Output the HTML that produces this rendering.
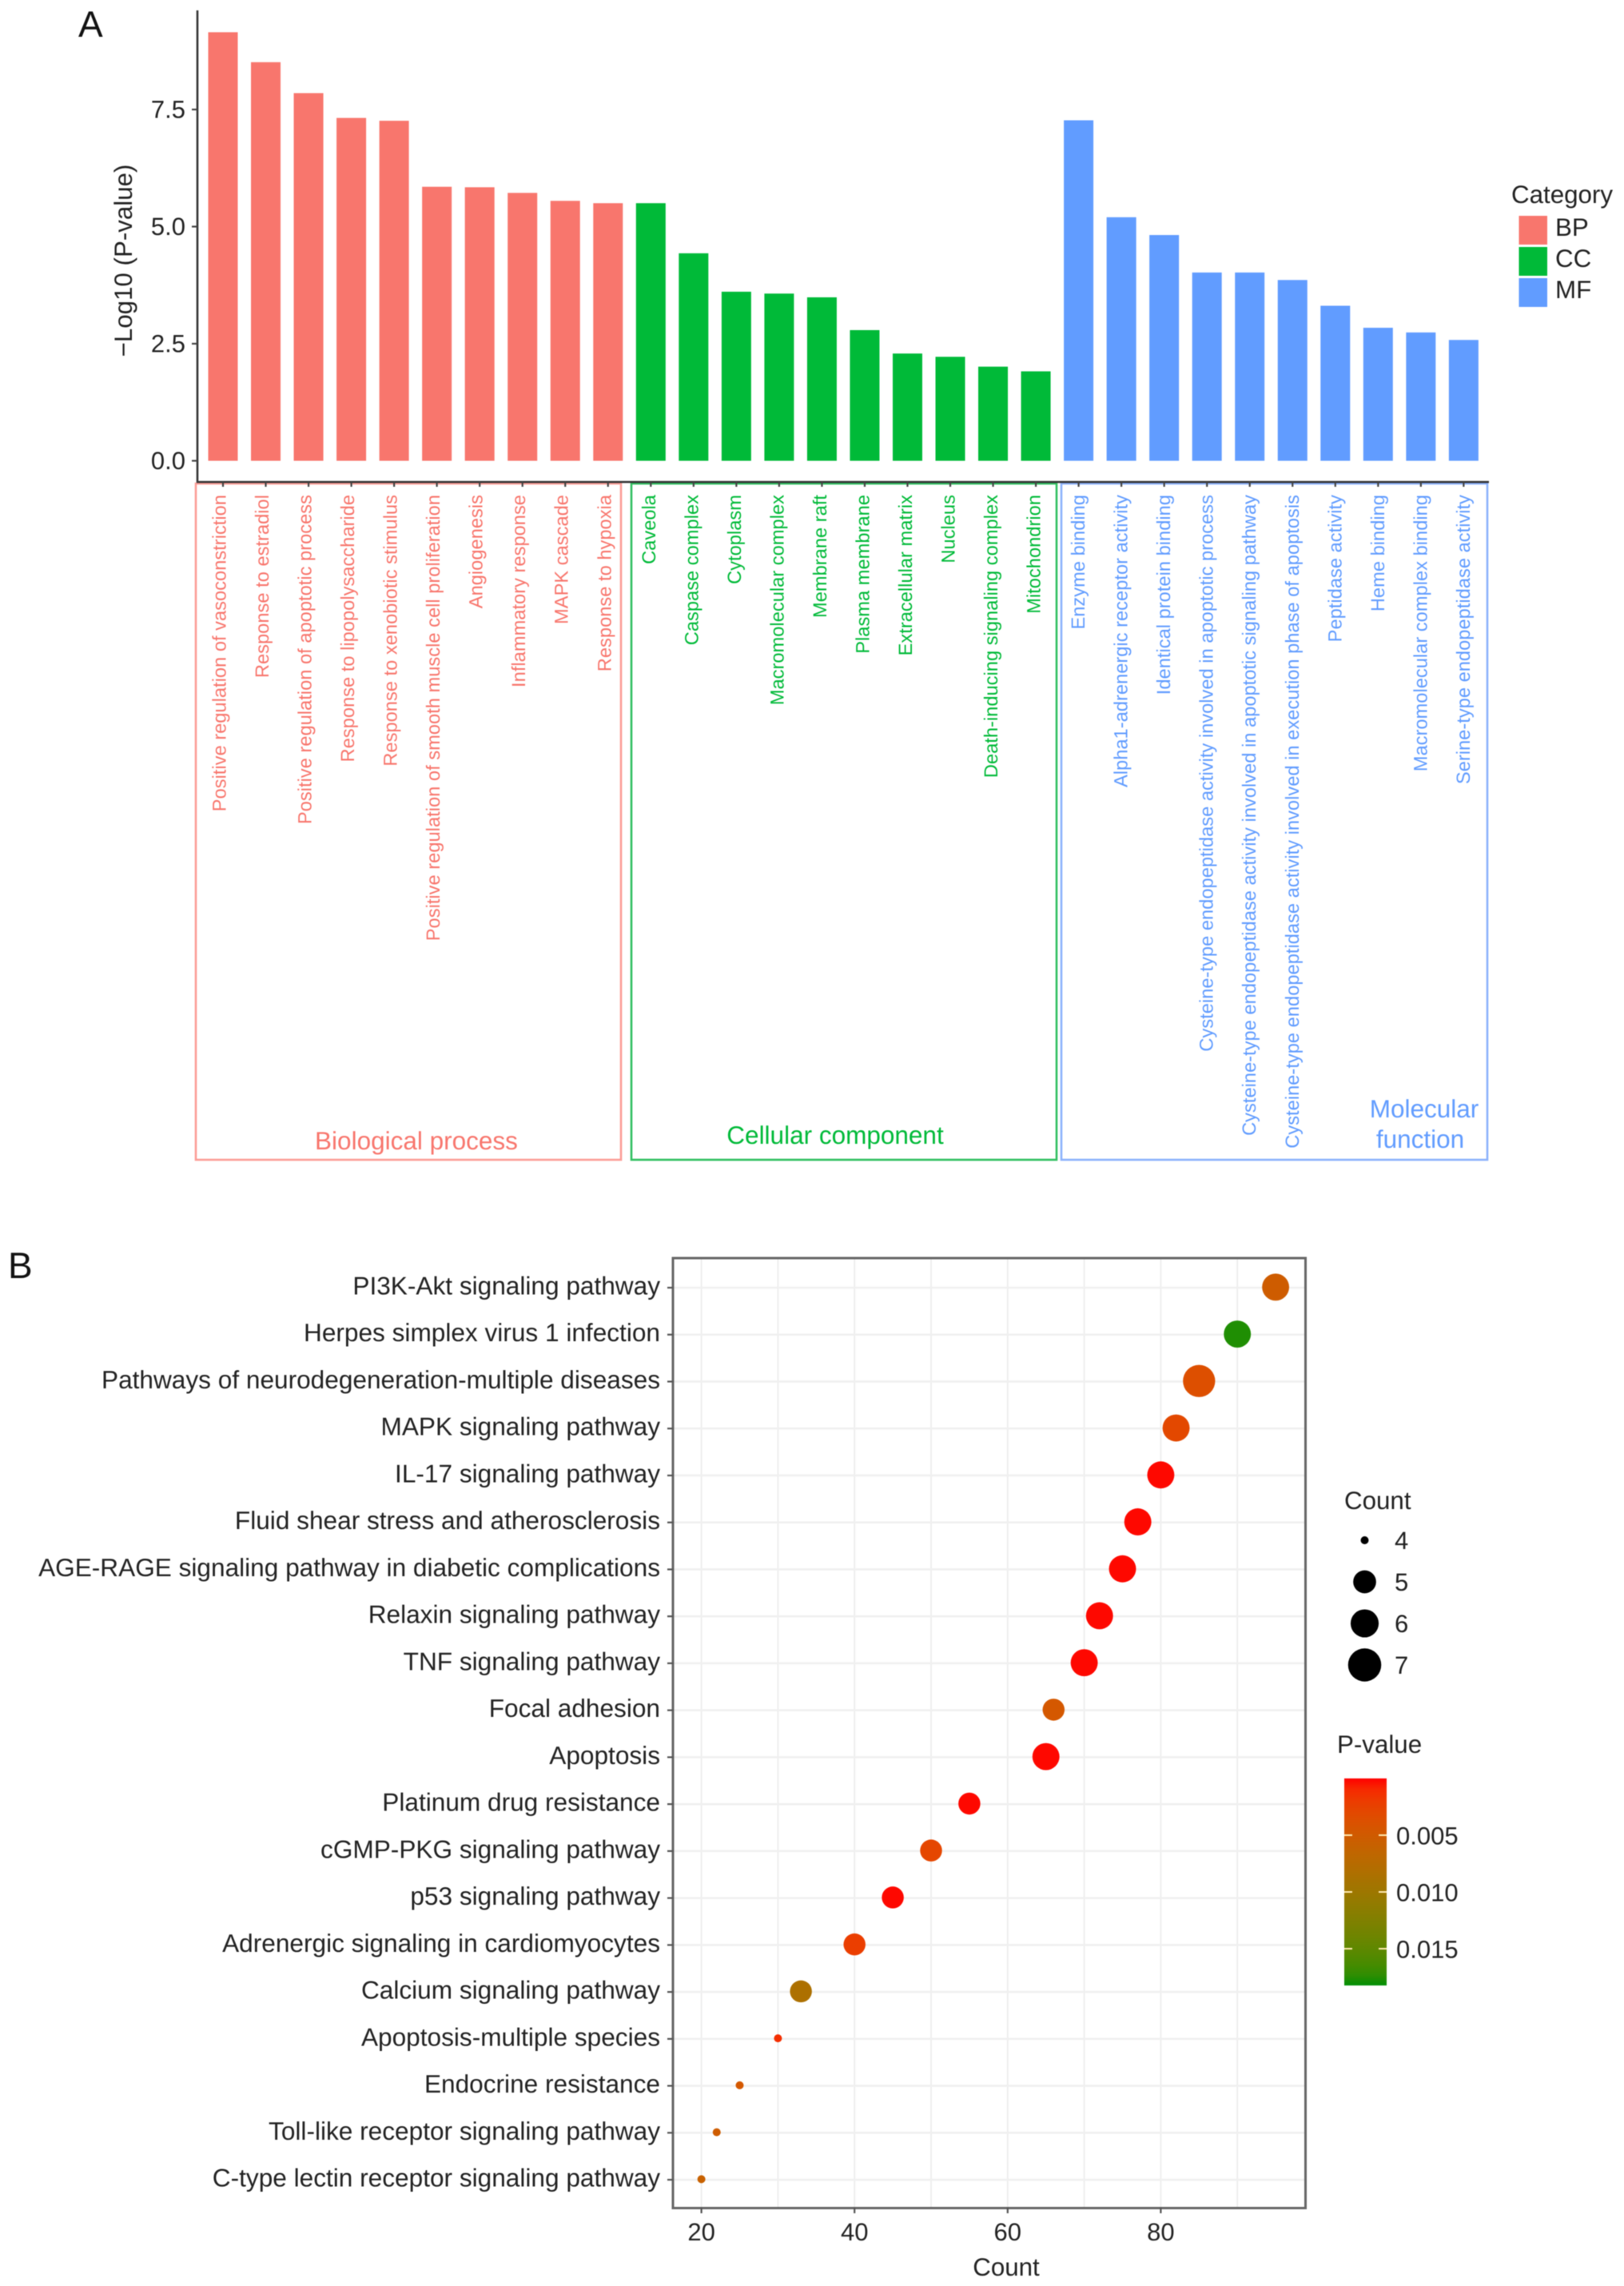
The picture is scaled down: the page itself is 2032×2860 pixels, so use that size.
<!DOCTYPE html>
<html lang="en">
<head>
<meta charset="utf-8">
<title>GO enrichment bar chart and KEGG pathway dot plot</title>
<style>
  html, body { margin: 0; padding: 0; background: #ffffff; }
  svg { display: block; filter: blur(0.5px); }
  text { font-family: "Liberation Sans", Arial, sans-serif; text-rendering: geometricPrecision; }
</style>
</head>
<body>
<svg id="figure" xmlns="http://www.w3.org/2000/svg" width="2032" height="2860" viewBox="0 0 2032 2860">
  <rect x="0" y="0" width="2032" height="2860" fill="#ffffff"/>

  <text x="98" y="46" font-size="46" fill="#111">A</text>
  <text x="10" y="1599" font-size="46" fill="#111">B</text>

  <g id="panel-a">
    <rect x="245" y="605" width="532" height="846" fill="none" stroke="#fb9d97" stroke-width="2.6"/>
    <rect x="790" y="605" width="532" height="846" fill="none" stroke="#30c060" stroke-width="2.6"/>
    <rect x="1328" y="605" width="533" height="846" fill="none" stroke="#8cb2fb" stroke-width="2.6"/>
    <text x="521" y="1438" font-size="31.5" fill="#f8766d" text-anchor="middle">Biological process</text>
    <text x="1045" y="1431" font-size="31.5" fill="#00ba38" text-anchor="middle">Cellular component</text>
    <text x="1782" y="1398" font-size="31.5" fill="#619cff" text-anchor="middle">Molecular</text>
    <text x="1777" y="1436" font-size="31.5" fill="#619cff" text-anchor="middle">function</text>
    <g id="a-bars"></g>
    <line x1="247" y1="13" x2="247" y2="604" stroke="#333" stroke-width="2.6"/>
    <line x1="246" y1="603" x2="1863" y2="603" stroke="#333" stroke-width="2.6"/>
    <g id="a-y-ticks"></g>
    <g id="a-x-ticks"></g>
    <text transform="translate(165 326) rotate(-90)" font-size="31.3" fill="#222" text-anchor="middle">−Log10 (P-value)</text>
    <g id="a-legend">
      <text x="1891" y="254" font-size="31.3" fill="#222">Category</text>
    </g>
  </g>

  <g id="panel-b">
    <g id="b-grid"></g>
    <g id="b-dots"></g>
    <rect x="842" y="1574" width="791.5" height="1188.5" fill="none" stroke="#666" stroke-width="3"/>
    <g id="b-y-ticks"></g>
    <g id="b-x-ticks"></g>
    <text x="1259" y="2847" font-size="31.3" fill="#222" text-anchor="middle">Count</text>
    <g id="b-size-legend">
      <text x="1682" y="1888" font-size="31.3" fill="#222">Count</text>
    </g>
    <g id="b-color-legend">
      <text x="1673" y="2193" font-size="31.3" fill="#222">P-value</text>
    </g>
  </g>
</svg>

<script>
// ---- Panel A data ----
const bpTerms = ["Positive regulation of vasoconstriction", "Response to estradiol", "Positive regulation of apoptotic process", "Response to lipopolysaccharide", "Response to xenobiotic stimulus", "Positive regulation of smooth muscle cell proliferation", "Angiogenesis", "Inflammatory response", "MAPK cascade", "Response to hypoxia"];
const bpValues = [9.15, 8.51, 7.85, 7.32, 7.26, 5.85, 5.84, 5.72, 5.55, 5.50];
const ccTerms = ["Caveola", "Caspase complex", "Cytoplasm", "Macromolecular complex", "Membrane raft", "Plasma membrane", "Extracellular matrix", "Nucleus", "Death-inducing signaling complex", "Mitochondrion"];
const ccValues = [5.50, 4.43, 3.61, 3.57, 3.49, 2.79, 2.29, 2.22, 2.01, 1.91];
const mfTerms = ["Enzyme binding", "Alpha1-adrenergic receptor activity", "Identical protein binding", "Cysteine-type endopeptidase activity involved in apoptotic process", "Cysteine-type endopeptidase activity involved in apoptotic signaling pathway", "Cysteine-type endopeptidase activity involved in execution phase of apoptosis", "Peptidase activity", "Heme binding", "Macromolecular complex binding", "Serine-type endopeptidase activity"];
const mfValues = [7.27, 5.20, 4.82, 4.02, 4.02, 3.86, 3.31, 2.84, 2.74, 2.58];
const goTickValues = [0, 2.5, 5, 7.5];
const goTickLabels = ["0.0", "2.5", "5.0", "7.5"];
const categoryNames = ["BP", "CC", "MF"];

// ---- Panel B data ----
const pathways = ["PI3K-Akt signaling pathway", "Herpes simplex virus 1 infection", "Pathways of neurodegeneration-multiple diseases", "MAPK signaling pathway", "IL-17 signaling pathway", "Fluid shear stress and atherosclerosis", "AGE-RAGE signaling pathway in diabetic complications", "Relaxin signaling pathway", "TNF signaling pathway", "Focal adhesion", "Apoptosis", "Platinum drug resistance", "cGMP-PKG signaling pathway", "p53 signaling pathway", "Adrenergic signaling in cardiomyocytes", "Calcium signaling pathway", "Apoptosis-multiple species", "Endocrine resistance", "Toll-like receptor signaling pathway", "C-type lectin receptor signaling pathway"];
const pathwayCounts = [95, 90, 85, 82, 80, 77, 75, 72, 70, 66, 65, 55, 50, 45, 40, 33, 30, 25, 22, 20];
const pathwayPValues = [0.0052, 0.0178, 0.0036, 0.0030, 0.0001, 0.0001, 0.0001, 0.0001, 0.0001, 0.0046, 0.0001, 0.0001, 0.0028, 0.0001, 0.0022, 0.0085, 0.0012, 0.0046, 0.0052, 0.0058];
const pathwaySizes = [6, 6, 7, 6, 6, 6, 6, 6, 6, 5, 6, 5, 5, 5, 5, 5, 4, 4, 4, 4];
const countTickValues = [20, 40, 60, 80];
const countGridValues = [20, 30, 40, 50, 60, 70, 80, 90];
const sizeLegendValues = [4, 5, 6, 7];
const pTickValues = [0.005, 0.010, 0.015];
const pTickLabels = ["0.005", "0.010", "0.015"];

// ---- Helpers ----
const NS = 'http://www.w3.org/2000/svg';
function make(parentId, tag, attrs, content) {
  const node = document.createElementNS(NS, tag);
  for (const key in attrs) node.setAttribute(key, attrs[key]);
  if (content !== undefined) node.textContent = content;
  document.getElementById(parentId).appendChild(node);
  return node;
}

// ---- Panel A scales ----
const yGo = v => 576.5 - v * 58.6;
const xGo = i => 279 + i * 53.53;
const GO_BAR_W = 37;

function drawGroup(terms, values, start, color, labelOffset, key) {
  values.forEach((value, i) => {
    const cx = xGo(start + i);
    let el = make('a-bars', 'rect', { x: cx - GO_BAR_W / 2, y: yGo(value), width: GO_BAR_W, height: yGo(0) - yGo(value), fill: color });
    
    
    el = make('a-x-ticks', 'line', { x1: cx, x2: cx, y1: 603, y2: 609, stroke: '#444', 'stroke-width': 2.2 });
    
    
    el = make('a-x-ticks', 'text', { transform: 'translate(' + (cx + labelOffset) + ' 619) rotate(-90)', 'font-size': 23.7, fill: color, 'text-anchor': 'end' }, terms[i]);
    
    
  });
}
drawGroup(bpTerms, bpValues, 0, '#f8766d', 3.5, 'bp');
drawGroup(ccTerms, ccValues, 10, '#00ba38', 5.5, 'cc');
drawGroup(mfTerms, mfValues, 20, '#619cff', 7.5, 'mf');

goTickValues.forEach((value, i) => {
  let el = make('a-y-ticks', 'line', { x1: 240, x2: 247, y1: yGo(value), y2: yGo(value), stroke: '#444', 'stroke-width': 2.2 });
  
  
  el = make('a-y-ticks', 'text', { x: 232, y: yGo(value) + 10.5, 'font-size': 31, fill: '#222', 'text-anchor': 'end' }, goTickLabels[i]);
  
  
});

const legendColors = ['#f8766d', '#00ba38', '#619cff'];
categoryNames.forEach((name, i) => {
  const top = 270 + i * 39;
  let el = make('a-legend', 'rect', { x: 1900.5, y: top, width: 35.5, height: 36, fill: legendColors[i] });
  
  
  el = make('a-legend', 'text', { x: 1946, y: top + 25, 'font-size': 31.3, fill: '#222' }, name);
  
  
});

// ---- Panel B scales ----
const xCount = c => 877.6 + (c - 20) * 9.58;
const yRow = i => 1611 + i * 58.74;
const dotDiameter = s => s <= 5 ? 10 + (s - 4) * 17.5 : 27.5 + (s - 5) * 6.4;
const yP = p => 2225 + p * 14200;

const LAB_RED = [53.24, 80.09, 67.2];
const LAB_GREEN = [51.5, -56, 53.5];
const P_MAX = 0.01824;
function labToRgb(L, a, b) {
  const fy = (L + 16) / 116, fx = fy + a / 500, fz = fy - b / 200;
  const inv = t => t > 0.20690 ? t * t * t : (t - 16 / 116) / 7.787;
  const X = 0.95047 * inv(fx), Y = inv(fy), Z = 1.08883 * inv(fz);
  const lin = [3.2406 * X - 1.5372 * Y - 0.4986 * Z, -0.9689 * X + 1.8758 * Y + 0.0415 * Z, 0.0557 * X - 0.2040 * Y + 1.0570 * Z];
  const out = lin.map(c => {
    const v = c <= 0.0031308 ? 12.92 * c : 1.055 * Math.pow(c, 1 / 2.4) - 0.055;
    return Math.max(0, Math.min(255, Math.round(v * 255)));
  });
  return 'rgb(' + out.join(',') + ')';
}
function pColor(p) {
  const t = Math.max(0, Math.min(1, p / P_MAX));
  return labToRgb(
    LAB_RED[0] + (LAB_GREEN[0] - LAB_RED[0]) * t,
    LAB_RED[1] + (LAB_GREEN[1] - LAB_RED[1]) * t,
    LAB_RED[2] + (LAB_GREEN[2] - LAB_RED[2]) * t
  );
}

countGridValues.forEach(value => {
  const el = make('b-grid', 'line', { x1: xCount(value), x2: xCount(value), y1: 1574, y2: 2762, stroke: '#eeeeee', 'stroke-width': 2 });
  
  
});
pathways.forEach((name, i) => {
  let el = make('b-grid', 'line', { x1: 842, x2: 1633, y1: yRow(i), y2: yRow(i), stroke: '#f0f0f0', 'stroke-width': 2.6 });
  
  
  el = make('b-y-ticks', 'line', { x1: 835, x2: 842, y1: yRow(i), y2: yRow(i), stroke: '#555', 'stroke-width': 2.2 });
  
  
  el = make('b-y-ticks', 'text', { x: 826, y: yRow(i) + 8.5, 'font-size': 31.6, fill: '#222', 'text-anchor': 'end' }, name);
  
  
  el = make('b-dots', 'circle', { cx: xCount(pathwayCounts[i]), cy: yRow(i) - 0.7, r: dotDiameter(pathwaySizes[i]) / 2, fill: pColor(pathwayPValues[i]) });
  
  
});

countTickValues.forEach(value => {
  let el = make('b-x-ticks', 'line', { x1: xCount(value), x2: xCount(value), y1: 2762, y2: 2769, stroke: '#555', 'stroke-width': 2.2 });
  
  
  el = make('b-x-ticks', 'text', { x: xCount(value), y: 2803, 'font-size': 31, fill: '#222', 'text-anchor': 'middle' }, String(value));
  
  
});

sizeLegendValues.forEach((value, i) => {
  const cy = 1927 + i * 52;
  let el = make('b-size-legend', 'circle', { cx: 1707.5, cy: cy, r: dotDiameter(value) / 2 + (value > 4 ? 0.6 : 0), fill: '#000000' });
  
  
  el = make('b-size-legend', 'text', { x: 1745, y: cy + 11, 'font-size': 31, fill: '#222' }, String(value));
  
  
});

// ---- Colour bar ----
const defs = document.createElementNS(NS, 'defs');
const gradient = document.createElementNS(NS, 'linearGradient');
gradient.setAttribute('id', 'p-gradient');
gradient.setAttribute('x1', '0');
gradient.setAttribute('y1', '0');
gradient.setAttribute('x2', '0');
gradient.setAttribute('y2', '1');
for (let k = 0; k <= 20; k++) {
  const stop = document.createElementNS(NS, 'stop');
  stop.setAttribute('offset', (k * 5) + '%');
  stop.setAttribute('stop-color', pColor(P_MAX * k / 20));
  gradient.appendChild(stop);
}
defs.appendChild(gradient);
document.getElementById('figure').appendChild(defs);

const colorBar = make('b-color-legend', 'rect', { x: 1682, y: yP(0), width: 53, height: yP(P_MAX) - yP(0), fill: 'url(#p-gradient)' });


pTickValues.forEach((value, i) => {
  let el = make('b-color-legend', 'line', { x1: 1682, x2: 1692, y1: yP(value), y2: yP(value), stroke: '#ffe9b0', 'stroke-width': 2 });
  
  
  el = make('b-color-legend', 'line', { x1: 1725, x2: 1735, y1: yP(value), y2: yP(value), stroke: '#ffe9b0', 'stroke-width': 2 });
  
  
  el = make('b-color-legend', 'text', { x: 1747, y: yP(value) + 11.5, 'font-size': 31, fill: '#222' }, pTickLabels[i]);
  
  
});
</script>
</body>
</html>
